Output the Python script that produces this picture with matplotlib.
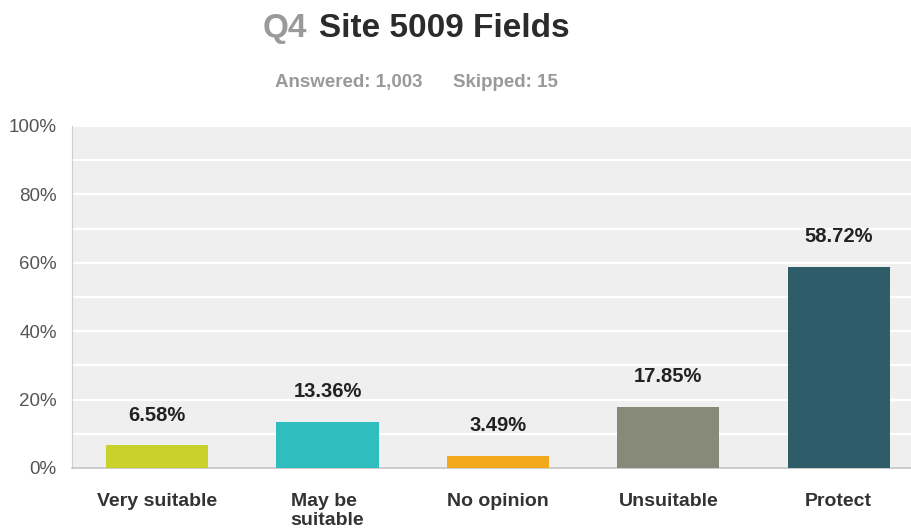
import matplotlib
matplotlib.use("Agg")
import matplotlib.pyplot as plt
from matplotlib.ticker import MultipleLocator, FuncFormatter

# data
categories = ["Very suitable", "May be\nsuitable", "No opinion", "Unsuitable", "Protect"]
percentages = [6.58, 13.36, 3.49, 17.85, 58.72]
bar_colors = ["#c9d22b", "#2fbdbd", "#f2a91c", "#878a79", "#2e5d69"]
title_q = "Q4"
title_text = "Site 5009 Fields"
answered = "Answered: 1,003"
skipped = "Skipped: 15"

W, H = 912, 529
plt.rcParams["font.family"] = ["Liberation Sans", "DejaVu Sans"]

fig = plt.figure(figsize=(W / 100, H / 100), dpi=100)
fig.patch.set_facecolor("white")

# plot area in pixels: left 72, top 126, bottom 468, runs off the right edge
ax = fig.add_axes([72 / W, 1 - 468 / H, (912 - 72) / W, (468 - 126) / H])
ax.set_facecolor("#efefef")

x = range(len(categories))
ax.bar(x, percentages, width=0.6, color=bar_colors, zorder=3)

ax.set_ylim(0, 100)
ax.set_xlim(-0.5, 4.43)
ax.yaxis.set_major_locator(MultipleLocator(20))
ax.yaxis.set_minor_locator(MultipleLocator(10))
ax.yaxis.set_major_formatter(FuncFormatter(lambda v, p: f"{v:.0f}%"))
ax.grid(axis="y", which="both", color="white", linewidth=1.6, zorder=1)
ax.tick_params(axis="y", which="both", length=0, pad=11, labelsize=13.5, labelcolor="#555555")
ax.tick_params(axis="x", length=0, pad=18)

ax.set_xticks(list(x))
ax.set_xticklabels(categories, fontsize=14, fontweight="bold", color="#333333",
                   va="top", multialignment="left", linespacing=1.15)

for s in ["top", "right"]:
    ax.spines[s].set_visible(False)
ax.spines["left"].set_color("#cfcfcf")
ax.spines["bottom"].set_color("#c4c4c4")
ax.spines["bottom"].set_linewidth(1.2)

for xi, v in zip(x, percentages):
    ax.annotate(f"{v:.2f}%", (xi, v), xytext=(0, 15), textcoords="offset points",
                ha="center", va="bottom", fontsize=14.5, fontweight="bold",
                color="#222222", zorder=4)

# title and subtitle
fig.text(263 / W, 1 - 37 / H, title_q, fontsize=24, fontweight="bold",
         color="#9a9a9a", ha="left", va="baseline")
fig.text(319 / W, 1 - 37 / H, title_text, fontsize=24, fontweight="bold",
         color="#2b2b2b", ha="left", va="baseline")
fig.text(275 / W, 1 - 87 / H, answered, fontsize=13.5, fontweight="bold",
         color="#9a9a9a", ha="left", va="baseline")
fig.text(453 / W, 1 - 87 / H, skipped, fontsize=13.5, fontweight="bold",
         color="#9a9a9a", ha="left", va="baseline")

fig.savefig("out.png", dpi=100)
